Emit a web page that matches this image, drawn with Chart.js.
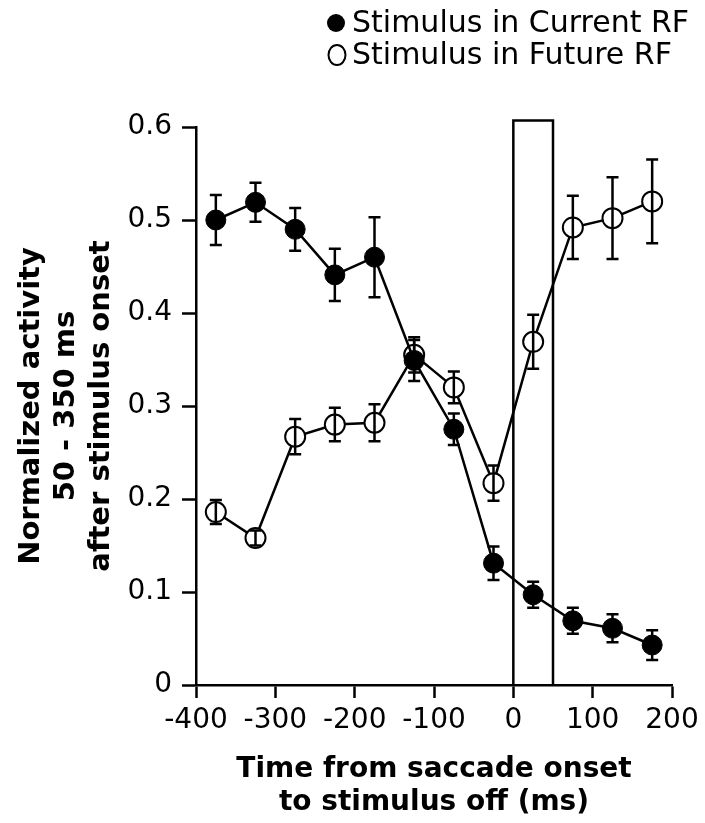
<!DOCTYPE html>
<html>
<head>
<meta charset="utf-8">
<script src="https://cdn.jsdelivr.net/npm/chart.js@4"></script>
<style>
  html, body { margin: 0; padding: 0; background: #fff; }
  #wrap { width: 705px; height: 823px; }
</style>
</head>
<body>
<div id="wrap"><canvas id="chart"></canvas></div>
<script>
// time from saccade onset to stimulus off (ms)
const times = [-375, -325, -275, -225, -175, -125, -75, -25, 25, 75, 125, 175];

// normalized activity, stimulus in current RF (filled)
const currentMean = [0.500, 0.519, 0.490, 0.441, 0.460, 0.349, 0.275, 0.131, 0.097, 0.069, 0.061, 0.043];
const currentErr = [0.027, 0.021, 0.023, 0.028, 0.043, 0.022, 0.017, 0.018, 0.014, 0.014, 0.015, 0.016];

// normalized activity, stimulus in future RF (open)
const futureMean = [0.186, 0.158, 0.267, 0.280, 0.282, 0.355, 0.320, 0.217, 0.369, 0.492, 0.502, 0.520];
const futureErr = [0.013, 0.008, 0.019, 0.018, 0.020, 0.019, 0.017, 0.019, 0.029, 0.034, 0.044, 0.045];

// saccade window box
const windowX = [0, 50];
const windowTop = 0.607;

const xTicks = [-400, -300, -200, -100, 0, 100, 200];
const yTicks = [0, 0.1, 0.2, 0.3, 0.4, 0.5, 0.6];

const legendLabels = ['Stimulus in Current RF', 'Stimulus in Future RF'];

Chart.defaults.font.family = "'DejaVu Sans', sans-serif";
Chart.defaults.color = '#000';

function points(xs, ys) {
  return xs.map((x, i) => ({ x: x, y: ys[i] }));
}

const errorBars = {
  id: 'errorBars',
  afterDatasetsDraw(chart) {
    const ctx = chart.ctx;
    const xs = chart.scales.x, ys = chart.scales.y;
    const sets = [[currentMean, currentErr], [futureMean, futureErr]];
    ctx.save();
    ctx.strokeStyle = '#000';
    ctx.lineWidth = 2.5;
    sets.forEach(([m, e]) => {
      times.forEach((t, i) => {
        const px = xs.getPixelForValue(t);
        const top = ys.getPixelForValue(m[i] + e[i]);
        const bot = ys.getPixelForValue(m[i] - e[i]);
        ctx.beginPath();
        ctx.moveTo(px, top); ctx.lineTo(px, bot);
        ctx.moveTo(px - 6, top); ctx.lineTo(px + 6, top);
        ctx.moveTo(px - 6, bot); ctx.lineTo(px + 6, bot);
        ctx.stroke();
      });
    });
    ctx.restore();
  }
};

const keyBox = {
  id: 'keyBox',
  afterDraw(chart) {
    const ctx = chart.ctx;
    ctx.save();
    ctx.font = "30px 'DejaVu Sans', sans-serif";
    ctx.fillStyle = '#000';
    ctx.strokeStyle = '#000';
    ctx.textBaseline = 'middle';
    // filled marker
    ctx.beginPath();
    ctx.arc(336, 23, 9, 0, Math.PI * 2);
    ctx.fill();
    ctx.fillText(legendLabels[0], 352, 24);
    // open marker
    ctx.lineWidth = 2;
    ctx.beginPath();
    ctx.ellipse(337, 55, 8.5, 10, 0, 0, Math.PI * 2);
    ctx.stroke();
    ctx.fillText(legendLabels[1], 352, 56);
    ctx.restore();
  }
};

new Chart(document.getElementById('chart'), {
  type: 'scatter',
  data: {
    datasets: [
      {
        label: legendLabels[0],
        data: points(times, currentMean),
        showLine: true,
        borderColor: '#000',
        borderWidth: 2.5,
        backgroundColor: '#000',
        pointRadius: 10,
        pointBorderWidth: 1,
        pointBorderColor: '#000',
        pointBackgroundColor: '#000'
      },
      {
        label: legendLabels[1],
        data: points(times, futureMean),
        showLine: true,
        borderColor: '#000',
        borderWidth: 2.5,
        backgroundColor: '#fff',
        pointRadius: 10,
        pointBorderWidth: 2,
        pointBorderColor: '#000',
        pointBackgroundColor: '#fff'
      },
      {
        label: 'window',
        data: [
          { x: windowX[0], y: 0 },
          { x: windowX[0], y: windowTop },
          { x: windowX[1], y: windowTop },
          { x: windowX[1], y: 0 }
        ],
        showLine: true,
        borderColor: '#000',
        borderWidth: 2.5,
        pointRadius: 0,
        clip: false
      }
    ]
  },
  options: {
    responsive: true,
    maintainAspectRatio: false,
    animation: false,
    layout: { padding: { top: 127, right: 33, bottom: 0, left: 0 } },
    plugins: {
      legend: { display: false },
      tooltip: { enabled: false }
    },
    scales: {
      x: {
        type: 'linear',
        min: -400,
        max: 200,
        afterBuildTicks: (s) => { s.ticks = xTicks.map(v => ({ value: v })); },
        afterFit: (s) => { s.height = 138; },
        ticks: { font: { size: 28 }, padding: 6, maxRotation: 0 },
        grid: { drawOnChartArea: false, tickLength: 13, tickWidth: 2.5, tickColor: '#000' },
        border: { display: true, color: '#000', width: 2.5 },
        title: {
          display: true,
          text: ['Time from saccade onset', 'to stimulus off (ms)'],
          font: { size: 28, weight: 'bold', lineHeight: 1.18 },
          padding: { top: 0, bottom: 4 }
        }
      },
      y: {
        min: 0,
        max: 0.6,
        afterBuildTicks: (s) => { s.ticks = yTicks.map(v => ({ value: v })); },
        afterFit: (s) => { s.width = 196; },
        ticks: { font: { size: 28 }, padding: 10, callback: (v) => String(v) },
        grid: { drawOnChartArea: false, tickLength: 14, tickWidth: 2.5, tickColor: '#000' },
        border: { display: true, color: '#000', width: 2.5 },
        title: {
          display: true,
          text: ['Normalized activity', '50 - 350 ms', 'after stimulus onset'],
          font: { size: 29, weight: 'bold', lineHeight: 1.2 },
          padding: { top: 14, bottom: 0 }
        }
      }
    }
  },
  plugins: [errorBars, keyBox]
});
</script>
</body>
</html>
